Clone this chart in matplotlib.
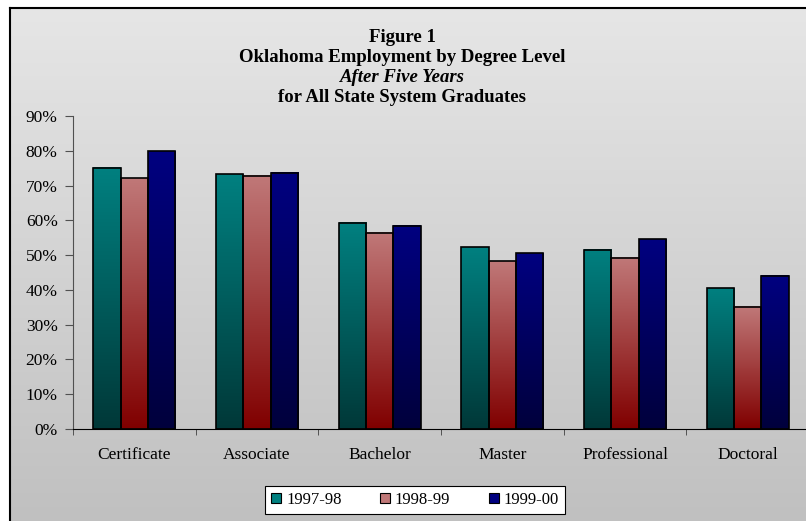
import numpy as np
import matplotlib.pyplot as plt
from matplotlib.colors import LinearSegmentedColormap
from matplotlib.patches import Patch
from matplotlib.ticker import PercentFormatter, FixedLocator

# data
categories = ['Certificate', 'Associate', 'Bachelor', 'Master', 'Professional', 'Doctoral']
years = ['1997-98', '1998-99', '1999-00']
emp_9798 = [75.1, 73.2, 59.3, 52.3, 51.6, 40.4]
emp_9899 = [72.1, 72.8, 56.4, 48.2, 49.3, 35.2]
emp_9900 = [79.9, 73.7, 58.4, 50.6, 54.6, 44.0]

series = [emp_9798, emp_9899, emp_9900]
# (top colour, bottom colour) for each series gradient
grads = [('#008080', '#003838'), ('#c07878', '#800000'), ('#000080', '#00003c')]

plt.rcParams['font.family'] = ['Liberation Serif', 'DejaVu Serif']

W, H = 806, 521
fig = plt.figure(figsize=(W / 100, H / 100), dpi=100)
fig.patch.set_facecolor('white')

# grey gradient background with frame (right/bottom cropped off)
bg = fig.add_axes([10 / W, 0, 1 - 10 / W, 1 - 8 / H])
bg_cmap = LinearSegmentedColormap.from_list('bg', ['#c0c0c0', '#e6e6e6'])
bg.imshow(np.linspace(0, 1, 256).reshape(-1, 1), cmap=bg_cmap, aspect='auto',
          origin='lower', extent=[0, 1, 0, 1])
bg.set_xticks([])
bg.set_yticks([])
for side in ['right', 'bottom']:
    bg.spines[side].set_visible(False)
for side in ['left', 'top']:
    bg.spines[side].set_color('black')
    bg.spines[side].set_linewidth(1.5)

# title
tx = 402 / W
tsize = 13.5
fig.text(tx, 1 - 38 / H, 'Figure 1', ha='center', va='center', fontsize=tsize, fontweight='bold')
fig.text(tx, 1 - 57 / H, 'Oklahoma Employment by Degree Level', ha='center', va='center',
         fontsize=tsize, fontweight='bold')
fig.text(tx, 1 - 77 / H, 'After Five Years', ha='center', va='center', fontsize=tsize,
         fontweight='bold', style='italic')
fig.text(tx, 1 - 97 / H, 'for All State System Graduates', ha='center', va='center',
         fontsize=tsize, fontweight='bold')

# main axes
left, bottom_px, top_px = 73, 429, 116
ax = fig.add_axes([left / W, 1 - bottom_px / H, 736 / W, (bottom_px - top_px) / H])
ax.set_facecolor('none')

x = np.arange(len(categories))
width = 0.222
for i, vals in enumerate(series):
    bars = ax.bar(x + (i - 1) * width, vals, width, facecolor='none',
                  edgecolor='black', linewidth=1.2, zorder=3)
    cmap = LinearSegmentedColormap.from_list('g%d' % i, [grads[i][1], grads[i][0]])
    for b in bars:
        x0, h = b.get_x(), b.get_height()
        ax.imshow(np.linspace(0, 1, 128).reshape(-1, 1), cmap=cmap, aspect='auto',
                  origin='lower', extent=[x0, x0 + b.get_width(), 0, h], zorder=2)

ax.set_xlim(-0.5, len(categories) - 0.5)
ax.set_ylim(0, 90)
ax.set_yticks(np.arange(0, 91, 10))
ax.yaxis.set_major_formatter(PercentFormatter(100, decimals=0))
ax.set_xticks(x)
ax.set_xticklabels(categories)
ax.xaxis.set_minor_locator(FixedLocator(np.arange(-0.5, len(categories), 1)))
ax.tick_params(axis='x', which='major', length=0, pad=13, labelsize=12.5)
ax.tick_params(axis='x', which='minor', length=4, color='#404040', direction='out')
ax.tick_params(axis='y', length=6, color='#505050', pad=5, labelsize=12.5)
for side in ['top', 'right']:
    ax.spines[side].set_visible(False)
ax.spines['left'].set_color('#505050')
ax.spines['bottom'].set_color('black')

handles = [Patch(facecolor=grads[i][0], edgecolor='black', linewidth=0.8) for i in range(3)]
leg = fig.legend(handles, years, loc='center', bbox_to_anchor=(415 / W, 1 - 500 / H),
                 ncol=3, fontsize=12, frameon=True, fancybox=False, edgecolor='black',
                 handlelength=0.6, handleheight=0.6, handletextpad=0.3, columnspacing=2.3,
                 borderpad=0.35)
leg.get_frame().set_linewidth(0.8)
leg.get_frame().set_facecolor('white')
leg.get_frame().set_alpha(1)

fig.savefig('out.png', dpi=100)
